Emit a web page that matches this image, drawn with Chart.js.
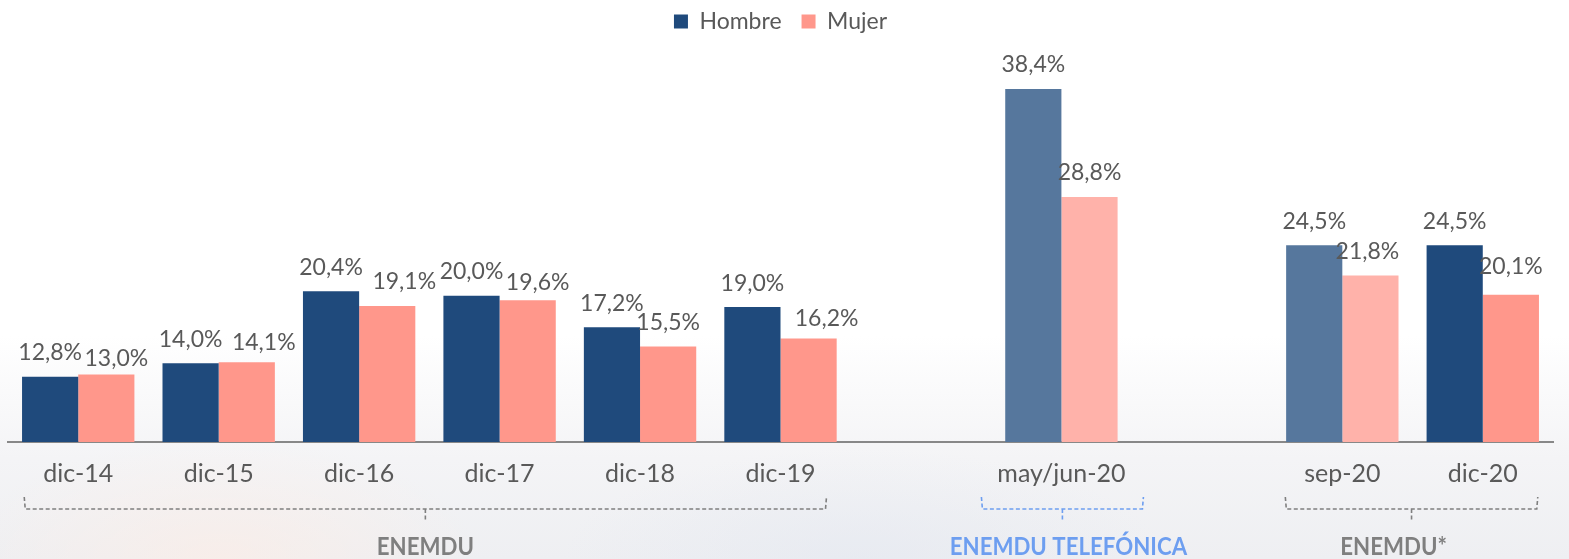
<!DOCTYPE html>
<html>
<head>
<meta charset="utf-8">
<script src="https://cdn.jsdelivr.net/npm/chart.js@4/dist/chart.umd.min.js"></script>
<style>
  html, body { margin: 0; padding: 0; }
  body {
    width: 1569px; height: 559px; overflow: hidden;
    background:
      radial-gradient(ellipse 260px 120px at 14% 100%, rgba(255, 236, 226, 0.55), rgba(255, 255, 255, 0)),
      radial-gradient(ellipse 300px 110px at 55% 100%, rgba(225, 230, 240, 0.5), rgba(255, 255, 255, 0)),
      linear-gradient(180deg, #ffffff 0%, #ffffff 60%, #f4f4f6 82%, #eeeff2 100%);
  }
  #wrap { position: relative; width: 1569px; height: 559px; }
</style>
</head>
<body>
<div id="wrap"><canvas id="grafico"></canvas></div>
<script>
// Categorie (gli slot vuoti separano i gruppi di encuesta)
var categorie = ['dic-14', 'dic-15', 'dic-16', 'dic-17', 'dic-18', 'dic-19', '', 'may/jun-20', '', 'sep-20', 'dic-20'];
var hombre = [12.8, 14.0, 20.4, 20.0, 17.2, 19.0, null, 38.4, null, 24.5, 24.5];
var mujer = [13.0, 14.1, 19.1, 19.6, 15.5, 16.2, null, 28.8, null, 21.8, 20.1];
// indici con colore attenuato
var attenuati = [7, 9];

// Gruppi sotto l'asse
var gruppi = [
    { nome: 'ENEMDU', da: 0, a: 5 },
    { nome: 'ENEMDU TELEFÓNICA', da: 7, a: 7 },
    { nome: 'ENEMDU*', da: 9, a: 10 }
];

// Stili
var stile = {
    testo: '#595959',
    hombre: '#1F4A7C', hombreChiaro: '#56779D',
    mujer: '#FF978B', mujerChiaro: '#FFB2AA',
    grigio: '#7f7f7f', blu: '#6D9EF0'
};
// spostamenti delle etichette di Mujer (come nell'originale)
var mujerDx = [10, 17, 17, 10, 0, 18, 0, 0, 0, -3, 0];
var mujerDy = [8, 4, 0, 6, 0, 4, 0, 0, 0, 0, -4];
// stile delle parentesi: margini sinistro/destro e colore
var parentesi = [
    { sx: 54, dx: 46, colore: stile.grigio, testoDx: 0 },
    { sx: 80, dx: 82, colore: stile.blu, testoDx: 6 },
    { sx: 57, dx: 55, colore: stile.grigio, testoDx: -18 }
];

function formatta(v) {
    return v.toFixed(1).replace('.', ',') + '%';
}

function colore(scuro, chiaro) {
    return function (ctx) {
        if (ctx.type === 'data' && attenuati.indexOf(ctx.dataIndex) >= 0) return chiaro;
        return scuro;
    };
}

//Legenda alta 71px (così l'area del grafico parte dove serve), ma disegnata più in alto
var altezzaLegenda = {
    id: 'altezzaLegenda',
    beforeInit: function (chart) {
        var fit = chart.legend.fit;
        chart.legend.fit = function () {
            fit.bind(chart.legend)();
            this.height = 71;
        };
    },
    afterLayout: function (chart) {
        chart.legend.top = -10;
    }
};

var etichette = {
    id: 'etichette',
    afterDatasetsDraw: function (chart) {
        var ctx = chart.ctx;
        ctx.save();
        ctx.font = '23px Lato';
        ctx.fillStyle = stile.testo;
        ctx.textAlign = 'center';
        ctx.textBaseline = 'middle';
        chart.data.datasets.forEach(function (ds, di) {
            var meta = chart.getDatasetMeta(di);
            meta.data.forEach(function (bar, i) {
                var v = ds.data[i];
                if (v === null) return;
                var dx = di === 1 ? mujerDx[i] : 0;
                var dy = di === 1 ? mujerDy[i] : 0;
                ctx.fillText(formatta(v), bar.x + dx, bar.y - 24 + dy);
            });
        });
        ctx.restore();
    }
};

var gruppiSotto = {
    id: 'gruppiSotto',
    afterDraw: function (chart) {
        var ctx = chart.ctx;
        var x = chart.scales.x;
        gruppi.forEach(function (g, k) {
            var p = parentesi[k];
            var sx = x.getPixelForValue(g.da) - p.sx;
            var dx = x.getPixelForValue(g.a) + p.dx;
            var mid = (sx + dx) / 2;
            ctx.save();
            ctx.strokeStyle = p.colore;
            ctx.lineWidth = 1.6;
            ctx.setLineDash([4, 2.5]);
            ctx.beginPath();
            ctx.moveTo(sx, 497);
            ctx.lineTo(sx + 1, 509);
            ctx.lineTo(dx - 1, 509);
            ctx.lineTo(dx, 497);
            ctx.moveTo(mid, 509);
            ctx.lineTo(mid, 522);
            ctx.stroke();
            ctx.setLineDash([]);
            ctx.fillStyle = p.colore;
            ctx.font = 'bold 25px Lato';
            ctx.textAlign = 'center';
            ctx.textBaseline = 'alphabetic';
            //testo un po' più stretto, come nell'originale
            ctx.translate(mid + p.testoDx, 555);
            ctx.scale(0.89, 1);
            ctx.fillText(g.nome, 0, 0);
            ctx.restore();
        });
    }
};

Chart.defaults.font.family = 'Lato';
Chart.defaults.color = stile.testo;

new Chart(document.getElementById('grafico').getContext('2d'), {
    type: 'bar',
    data: {
        labels: categorie,
        datasets: [{
            label: 'Hombre',
            data: hombre,
            backgroundColor: colore(stile.hombre, stile.hombreChiaro),
            categoryPercentage: 0.8,
            barPercentage: 1.0
        }, {
            label: 'Mujer',
            data: mujer,
            backgroundColor: colore(stile.mujer, stile.mujerChiaro),
            categoryPercentage: 0.8,
            barPercentage: 1.0
        }]
    },
    options: {
        responsive: true,
        maintainAspectRatio: false,
        animation: false,
        layout: { padding: { left: 8, right: 16, top: 0, bottom: 0 } },
        plugins: {
            legend: {
                position: 'top',
                labels: {
                    boxWidth: 14, boxHeight: 14,
                    padding: 20,
                    color: stile.testo,
                    font: { size: 23 }
                }
            },
            tooltip: { enabled: false }
        },
        scales: {
            x: {
                grid: { display: false, drawTicks: false },
                border: { display: true, color: '#888888', width: 2 },
                ticks: { color: stile.testo, font: { size: 25 }, padding: 17, maxRotation: 0, autoSkip: false },
                afterFit: function (s) { s.height = 117; }
            },
            y: {
                display: false,
                min: 7,
                max: 40
            }
        }
    },
    plugins: [altezzaLegenda, etichette, gruppiSotto]
});
</script>
</body>
</html>
